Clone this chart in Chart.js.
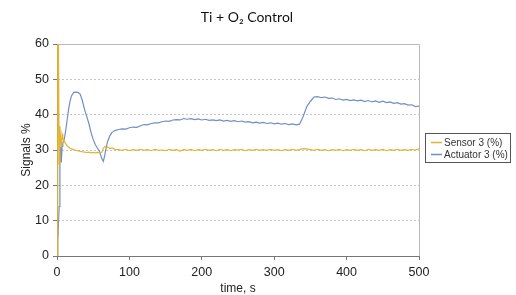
<!DOCTYPE html>
<html>
<head>
<meta charset="utf-8">
<script src="https://cdn.jsdelivr.net/npm/chart.js@4/dist/chart.umd.min.js"></script>
<style>
  body { margin: 0; background: #fff; }
  #wrap { width: 516px; height: 295px; }
</style>
</head>
<body>
<div id="wrap"><canvas id="signalChart" width="516" height="295"></canvas></div>
<script>
const chartTitle = 'Ti + O\u2082 Control';
const seriesNames = ['Sensor 3 (%)', 'Actuator 3 (%)'];
const yTicks = [0, 10, 20, 30, 40, 50, 60];
const xTicks = [0, 100, 200, 300, 400, 500];

// time, s
const times = [0, 1, 2, 3, 4, 5, 6, 7, 8, 10, 12, 14, 16, 18, 20, 23, 26, 29, 32, 35, 38, 41, 44, 47, 50, 53, 56, 59, 62, 64, 66, 68, 70, 73, 76, 80,
  85, 90, 95, 100, 105, 110, 115, 120, 125, 130, 135, 140, 145, 150, 155, 160, 165, 170, 175, 180, 185, 190, 195, 200,
  205, 210, 215, 220, 225, 230, 235, 240, 245, 250, 255, 260, 265, 270, 275, 280, 285, 290, 295, 300,
  305, 310, 315, 320, 325, 330, 335, 340, 345, 350, 355, 360, 365, 370, 375, 380, 385, 390, 395, 400,
  405, 410, 415, 420, 425, 430, 435, 440, 445, 450, 455, 460, 465, 470, 475, 480, 485, 490, 495, 500];

const sensor = [0, 60, 60, 26, 36.8, 33, 31, 34.5, 33.5, 32.5, 31.8, 31.2, 30.8, 30.5, 30.3, 30.1, 29.9, 29.8, 29.6, 29.5, 29.4, 29.3, 29.4, 29.2, 29.3, 29.2, 29.3, 29.1, 29.4, 30.5, 31.0, 30.8, 30.9, 30.4, 30.6, 30.2,
  30.1, 29.9, 30.2, 29.8, 30.1, 29.9, 30.2, 29.9, 30.1, 29.8, 30.2, 29.9, 30.0, 29.8, 30.2, 29.9, 30.1, 29.7, 30.1, 29.9, 30.2, 29.8, 30.1, 29.9,
  30.2, 29.9, 30.1, 29.8, 30.2, 29.9, 30.1, 29.8, 30.1, 30.0, 30.2, 29.8, 30.1, 29.9, 30.2, 29.9, 30.1, 29.9, 30.2, 29.9,
  30.1, 29.8, 30.1, 29.9, 30.2, 29.9, 30.1, 30.4, 30.3, 30.1, 29.9, 30.2, 29.9, 30.1, 29.8, 30.1, 29.9, 30.2, 29.8, 30.1,
  29.9, 30.2, 29.9, 30.1, 29.8, 30.2, 29.9, 30.1, 29.9, 30.2, 29.8, 30.1, 29.9, 30.2, 29.9, 30.1, 29.9, 30.2, 30.0, 30.3];

const actuator = [0, 4, 9, 14, 28, 31, 26.5, 31, 32, 33, 35.5, 38.5, 41.5, 43.8, 45.3, 46.3, 46.4, 46.3, 45.8, 44, 41.5, 39.5, 37.5, 35, 33, 31.5, 30.5, 29.5, 27.5, 26.8, 28.5, 30.8, 32.5, 34, 35, 35.5,
  35.8, 36.0, 35.9, 36.3, 36.5, 36.4, 36.8, 37.2, 37.1, 37.5, 37.7, 37.7, 38.0, 38.2, 38.1, 38.5, 38.6, 38.5, 38.9, 38.7, 38.9, 38.6, 38.8, 38.5,
  38.7, 38.4, 38.5, 38.3, 38.5, 38.2, 38.4, 38.1, 38.3, 38.0, 38.2, 37.9, 38.0, 37.7, 37.9, 37.6, 37.8, 37.5, 37.7, 37.4,
  37.6, 37.3, 37.5, 37.2, 37.4, 37.1, 37.3, 39.5, 42.3, 43.8, 45.0, 45.1, 44.8, 45.0, 44.6, 44.7, 44.3, 44.5, 44.1, 44.3,
  44.0, 44.2, 43.9, 44.1, 43.7, 44.0, 43.6, 43.9, 43.5, 43.8, 43.4, 43.6, 43.2, 43.4, 43.0, 43.1, 42.7, 42.8, 42.3, 42.4];

const colors = ['#e3b332', '#6f8fc6'];

const toPoints = vals => vals.map((v, i) => ({ x: times[i], y: v }));

// frame, title and boxed legend like the original spreadsheet chart
const decor = {
  id: 'decor',
  beforeDatasetsDraw(chart) {
    const { ctx, chartArea: a } = chart;
    ctx.save();
    ctx.strokeStyle = '#b8b8b8';
    ctx.lineWidth = 1;
    ctx.beginPath();
    ctx.moveTo(a.left, a.top + 0.5);
    ctx.lineTo(a.right + 0.5, a.top + 0.5);
    ctx.lineTo(a.right + 0.5, a.bottom);
    ctx.stroke();
    ctx.restore();
  },
  afterDraw(chart) {
    const ctx = chart.ctx;
    ctx.save();
    ctx.fillStyle = '#111';
    ctx.font = '14px Lato';
    ctx.textAlign = 'center';
    ctx.textBaseline = 'middle';
    ctx.fillText(chartTitle, 247, 17);

    // legend box
    ctx.strokeStyle = '#555';
    ctx.lineWidth = 1;
    ctx.strokeRect(425.5, 133.5, 85, 29);
    ctx.font = '10px "Liberation Sans"';
    ctx.textAlign = 'left';
    seriesNames.forEach((name, i) => {
      const y = 142.5 + i * 12;
      ctx.strokeStyle = colors[i];
      ctx.lineWidth = 1.5;
      ctx.beginPath();
      ctx.moveTo(431, y);
      ctx.lineTo(442, y);
      ctx.stroke();
      ctx.fillStyle = '#333';
      ctx.fillText(name, 444, y + 0.5);
    });
    ctx.restore();
  }
};

new Chart(document.getElementById('signalChart'), {
  type: 'line',
  data: {
    datasets: [
      { label: seriesNames[0], data: toPoints(sensor), borderColor: colors[0], borderWidth: 1.2, pointRadius: 0, tension: 0 },
      { label: seriesNames[1], data: toPoints(actuator), borderColor: colors[1], borderWidth: 1.2, pointRadius: 0, tension: 0 }
    ]
  },
  options: {
    responsive: false,
    animation: false,
    devicePixelRatio: 1,
    layout: { padding: { top: 44, right: 97, bottom: 0, left: 0 } },
    plugins: { legend: { display: false }, tooltip: { enabled: false } },
    scales: {
      x: {
        type: 'linear',
        min: 0,
        max: 500,
        afterFit: s => { s.height = 39; },
        afterBuildTicks: s => { s.ticks = xTicks.map(v => ({ value: v })); },
        ticks: { color: '#222', font: { family: 'Liberation Sans', size: 12.5 }, padding: 5, maxRotation: 0 },
        grid: { drawOnChartArea: false, drawTicks: true, tickLength: 4, tickColor: '#777', tickBorderDash: [] },
        border: { color: '#777', width: 1 },
        title: { display: true, text: 'time, s', color: '#222', font: { family: 'Liberation Sans', size: 12 }, padding: { top: 0, bottom: -1 } }
      },
      y: {
        min: 0,
        max: 60,
        afterFit: s => { s.width = 57; },
        afterBuildTicks: s => { s.ticks = yTicks.map(v => ({ value: v })); },
        ticks: { color: '#222', font: { family: 'Liberation Sans', size: 12.5 }, padding: 4 },
        grid: {
          color: c => (c.tick && c.tick.value > 0 && c.tick.value < 60) ? '#c6c6c6' : 'rgba(0,0,0,0)',
          tickColor: '#777',
          tickLength: 4,
          tickBorderDash: []
        },
        border: { color: '#777', width: 1, dash: [2, 2] },
        title: { display: true, text: 'Signals %', color: '#222', font: { family: 'Liberation Sans', size: 12 }, padding: { top: 19, bottom: 0 } }
      }
    }
  },
  plugins: [decor]
});
</script>
</body>
</html>
